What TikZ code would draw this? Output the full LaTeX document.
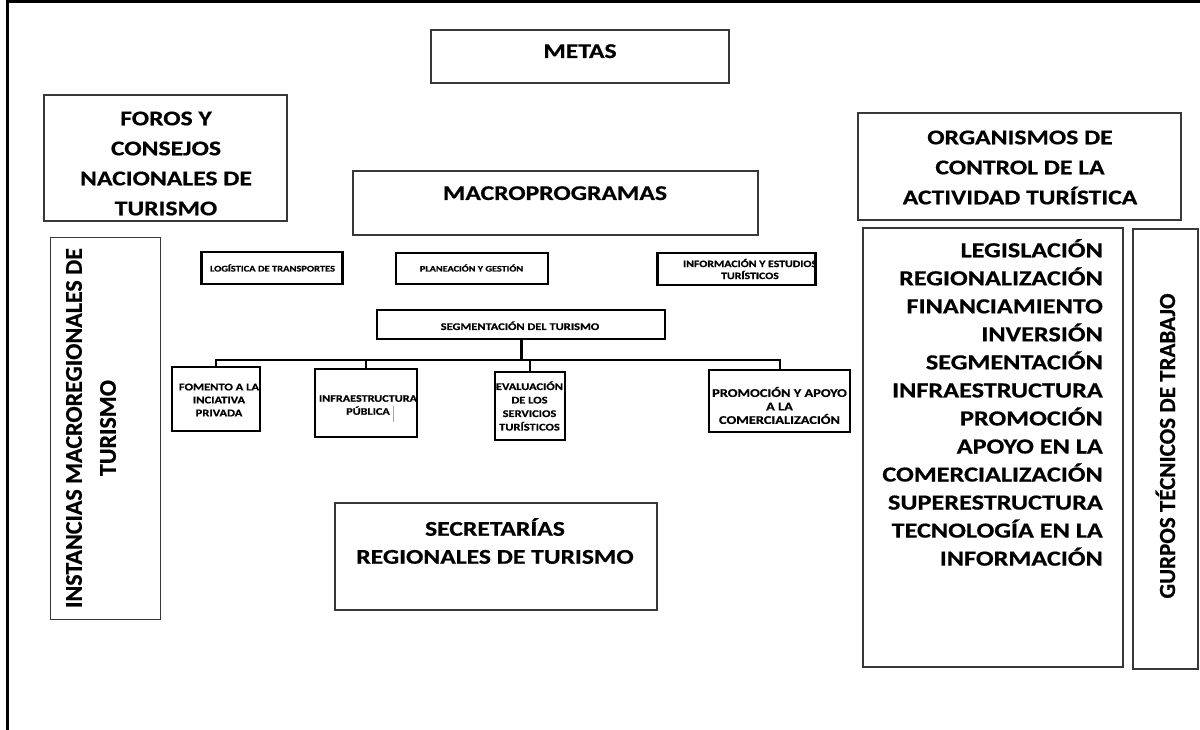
\documentclass[tikz,border=0pt]{standalone}
\usepackage{fontspec}
\newfontfamily\hf[FakeStretch=1.22, BoldFeatures={FakeBold=0.6}]{Carlito}
\newfontfamily\vf[BoldFeatures={FakeBold=0.6}]{Carlito}
\newcommand\fsz[2]{\fontsize{#1}{#2}\selectfont}
\begin{document}
\begin{tikzpicture}[x=1pt,y=-1pt,
  bigbox/.style={draw=black!78, line width=1.3pt, inner sep=0pt, outer sep=0pt},
  thbox/.style={draw=black, line width=2.5pt, inner sep=0pt, outer sep=0pt},
  ht/.style={inner sep=0pt, align=center, font=\hf\bfseries\fsz{21}{30}},
  st/.style={inner sep=0pt, align=center},
  conn/.style={draw=black, line width=2pt},
  trunk/.style={draw=black, line width=3pt},
  frame/.style={draw=black, line width=3pt}
]
\useasboundingbox (0,0) rectangle (1200,730);
\draw[frame] (7.5,730) -- (7.5,2) -- (1200,2);

% large boxes
\node[bigbox, minimum width=298pt, minimum height=53pt] (metas) at (580,56.5) {};
\node[ht, anchor=base] (metasT) at (580,58) {METAS};

\node[bigbox, minimum width=243pt, minimum height=126pt] (foros) at (165.5,158) {};
\node[ht] (forosT) at (166,163.5) {FOROS Y\\CONSEJOS\\NACIONALES DE\\TURISMO};

\node[bigbox, minimum width=405pt, minimum height=64pt] (macro) at (555.5,203) {};
\node[ht, anchor=base] (macroT) at (555,200) {MACROPROGRAMAS};

\node[bigbox, minimum width=323pt, minimum height=107pt] (organ) at (1019.5,166.5) {};
\node[ht] (organT) at (1020,167.5) {ORGANISMOS DE\\CONTROL DE LA\\ACTIVIDAD TURÍSTICA};

\node[bigbox, minimum width=110pt, minimum height=382pt] (inst) at (105.5,428.5) {};
\node[st, rotate=90, font=\vf\bfseries\fsz{24}{34}] (instT) at (91,428) {INSTANCIAS MACROREGIONALES DE\\TURISMO};

\node[bigbox, minimum width=322pt, minimum height=107pt] (secr) at (496,556.5) {};
\node[ht, font=\hf\bfseries\fsz{21}{28}] (secrT) at (495,541) {SECRETARÍAS\\REGIONALES DE TURISMO};

\node[bigbox, minimum width=260pt, minimum height=439pt] (list) at (993,447.5) {};
\node[inner sep=0pt, align=right, anchor=east, font=\hf\bfseries\fsz{21.5}{28.03}] (listT) at (1103,402.5)
 {LEGISLACIÓN\\REGIONALIZACIÓN\\FINANCIAMIENTO\\INVERSIÓN\\SEGMENTACIÓN\\INFRAESTRUCTURA\\PROMOCIÓN\\APOYO EN LA\\COMERCIALIZACIÓN\\SUPERESTRUCTURA\\TECNOLOGÍA EN LA\\INFORMACIÓN};

\node[bigbox, minimum width=65pt, minimum height=440pt] (gurp) at (1165.5,449) {};
\node[st, rotate=90, anchor=base, font=\vf\bfseries\fsz{23}{30}] (gurpT) at (1175,446) {GURPOS TÉCNICOS DE TRABAJO};

% macroprogram boxes
\node[thbox, minimum width=141pt, minimum height=32pt] (logis) at (272,268) {};
\node[st, anchor=base, font=\hf\bfseries\fsz{8.6}{10}] (logisT) at (272.5,271.5) {LOGÍSTICA DE TRANSPORTES};

\node[thbox, minimum width=152pt, minimum height=31pt] (plan) at (472,268.5) {};
\node[st, anchor=base, font=\hf\bfseries\fsz{8.4}{10}] (planT) at (471.5,271.5) {PLANEACIÓN Y GESTIÓN};

\node[thbox, minimum width=158pt, minimum height=32pt] (info) at (736.5,269) {};
\node[st, font=\hf\bfseries\fsz{9.7}{12}] (infoT) at (750,269) {INFORMACIÓN Y ESTUDIOS\\TURÍSTICOS};

\node[thbox, minimum width=288pt, minimum height=29pt] (seg) at (521,324.5) {};
\node[st, anchor=base, font=\hf\bfseries\fsz{10.2}{12}] (segT) at (520,330) {SEGMENTACIÓN DEL TURISMO};

\node[thbox, minimum width=88pt, minimum height=64pt] (fom) at (216,399) {};
\node[st, font=\hf\bfseries\fsz{10.3}{13}] (fomT) at (219,400) {FOMENTO A LA\\INCIATIVA\\PRIVADA};

\node[thbox, minimum width=102pt, minimum height=68pt] (infra) at (366,403) {};
\node[st, font=\hf\bfseries\fsz{10}{13}] (infraT) at (368,405) {INFRAESTRUCTURA\\PÚBLICA};
\draw[black!35, line width=0.7pt] ([xshift=27pt,yshift=-3pt]infra.center) -- ([xshift=27pt,yshift=-19pt]infra.center);

\node[thbox, minimum width=70pt, minimum height=68pt] (eval) at (530,406) {};
\node[st, font=\hf\bfseries\fsz{10.2}{13.5}] (evalT) at (529.5,406) {EVALUACIÓN\\DE LOS\\SERVICIOS\\TURÍSTICOS};

\node[thbox, minimum width=141pt, minimum height=62pt] (promo) at (779.5,401) {};
\node[st, font=\hf\bfseries\fsz{11.8}{13.5}] (promoT) at (779.5,405.5) {PROMOCIÓN Y APOYO\\A LA\\COMERCIALIZACIÓN};

% connectors
\coordinate (bus) at (521,360);
\draw[trunk] (seg.south) -- (bus);
\draw[conn] (bus) -| (fom.north);
\draw[conn] (bus) -| (infra.north);
\draw[conn] (bus) -| (eval.north);
\draw[conn] (bus) -| (promo.north);
\end{tikzpicture}
\end{document}
